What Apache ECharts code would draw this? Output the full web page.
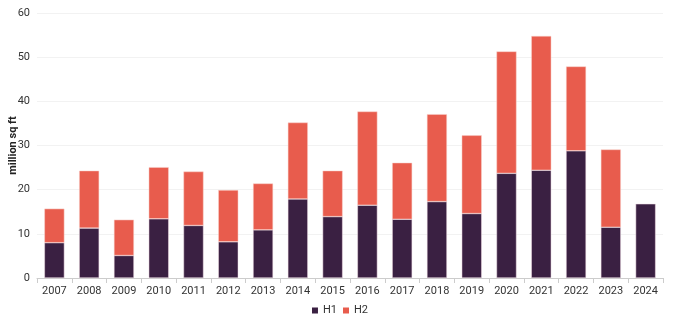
<!DOCTYPE html>
<html><head><meta charset="utf-8">
<script src="https://cdn.jsdelivr.net/npm/echarts@6/dist/echarts.min.js"></script>
<style>html,body{margin:0;padding:0;background:#fff}#c{width:680px;height:326px}</style>
</head><body><div id="c"></div>
<script>
const categories = ['2007','2008','2009','2010','2011','2012','2013','2014','2015','2016','2017','2018','2019','2020','2021','2022','2023','2024'];
const h1 = [8.0,11.3,5.1,13.4,11.9,8.2,10.9,17.9,13.9,16.5,13.3,17.3,14.6,23.7,24.4,28.8,11.5,16.8];
const h2 = [7.7,13.0,8.1,11.7,12.2,11.7,10.5,17.3,10.4,21.2,12.8,19.8,17.7,27.6,30.4,19.1,17.6,null];
const yTicks = {min:0, max:60, interval:10};
const font = 'Roboto, "Noto Sans", sans-serif';
const chart = echarts.init(document.getElementById('c'), null, {renderer:'canvas'});
chart.setOption({
  animation:false,
  textStyle:{fontFamily:font},
  grid:{left:37, right:17, top:13, bottom:48, containLabel:false, outerBoundsMode:'none'},
  legend:{bottom:5, left:'center', icon:'rect', itemWidth:6, itemHeight:6, itemGap:6,
    itemStyle:{borderWidth:0},
    textStyle:{fontSize:11, color:'#333', fontFamily:font}, data:['H1','H2']},
  xAxis:{type:'category', data:categories,
    axisLine:{lineStyle:{color:'#cccccc'}},
    axisTick:{show:true, lineStyle:{color:'#cccccc'}},
    axisLabel:{fontSize:11, color:'#333', margin:8, fontFamily:font}},
  yAxis:{type:'value', min:yTicks.min, max:yTicks.max, interval:yTicks.interval,
    name:'million sq ft', nameLocation:'middle', nameGap:18, nameMoveOverlap:false,
    nameTextStyle:{fontSize:11, fontWeight:'bold', color:'#222', fontFamily:font},
    axisLine:{show:false}, axisTick:{show:false},
    axisLabel:{fontSize:11, color:'#333', margin:7, fontFamily:font},
    splitLine:{lineStyle:{color:'#f2f2f2'}}},
  series:[
    {name:'H1', type:'bar', stack:'a', data:h1, barWidth:20,
      itemStyle:{color:'#3a2042', borderColor:'#f3dfe6', borderWidth:0.5}},
    {name:'H2', type:'bar', stack:'a', data:h2, barWidth:20,
      itemStyle:{color:'#e85c4d', borderColor:'#f8d3cd', borderWidth:0.5}}
  ]
});
</script></body></html>
